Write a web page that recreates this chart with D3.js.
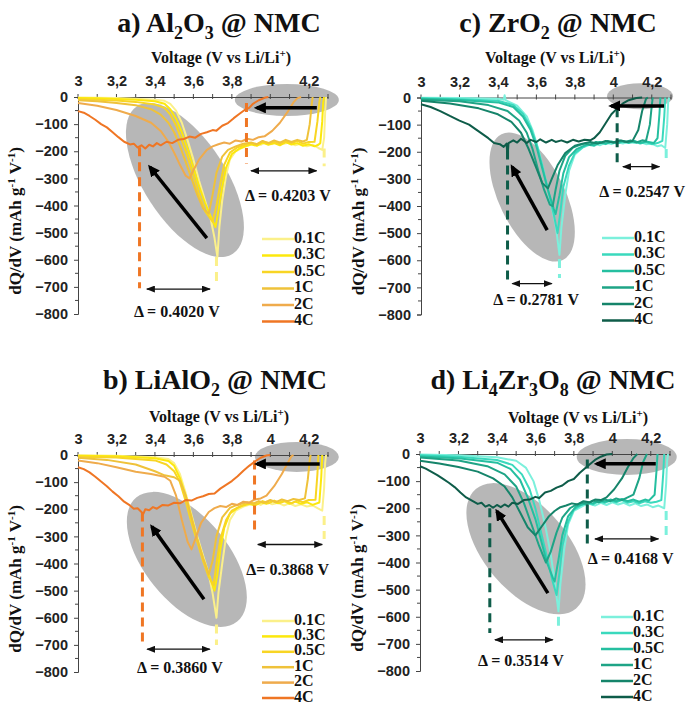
<!DOCTYPE html>
<html>
<head>
<meta charset="utf-8">
<script src="https://cdn.jsdelivr.net/npm/d3@7/dist/d3.min.js"></script>
<style>
body { margin: 0; background: #fff; }
text { font-family: "Liberation Serif", "Times New Roman", serif; font-weight: bold; fill: #111; }
.tick text { font-family: "Liberation Sans", Arial, sans-serif; font-size: 14.5px; font-weight: bold; fill: #222; }
</style>
</head>
<body>
<svg id="chart" width="689" height="706"></svg>
<script>
// rates and tick labels
var rates = ["0.1C", "0.3C", "0.5C", "1C", "2C", "4C"];
var voltTicks = [3, 3.2, 3.4, 3.6, 3.8, 4, 4.2];
var dqTicks = [0, -100, -200, -300, -400, -500, -600, -700, -800];

// a) Al2O3 @ NMC  -- [voltage, dQ/dV]
var al2o3_01 = [[3.00,-2],[3.10,-3],[3.20,-4],[3.30,-6],[3.40,-10],[3.45,-14],[3.48,-25],[3.51,-50],[3.54,-95],[3.57,-160],[3.60,-230],[3.63,-310],[3.66,-380],[3.69,-450],[3.71,-520],[3.725,-590],[3.735,-480],[3.75,-380],[3.77,-290],[3.79,-230],[3.82,-200],[3.86,-185],[3.89,-178],[3.92,-172],[3.95,-176],[3.98,-166],[4.01,-174],[4.04,-165],[4.07,-172],[4.10,-168],[4.13,-178],[4.16,-172],[4.19,-182],[4.22,-176],[4.25,-188],[4.27,-195],[4.28,-150],[4.285,-60],[4.29,0]];
var al2o3_03 = [[3.00,-4],[3.10,-5],[3.20,-7],[3.30,-10],[3.40,-16],[3.45,-25],[3.48,-45],[3.51,-80],[3.54,-130],[3.57,-190],[3.60,-260],[3.63,-330],[3.66,-390],[3.69,-440],[3.715,-480],[3.73,-420],[3.75,-330],[3.77,-260],[3.80,-210],[3.84,-190],[3.87,-182],[3.90,-174],[3.93,-180],[3.96,-168],[3.99,-176],[4.02,-170],[4.05,-178],[4.08,-166],[4.11,-175],[4.14,-170],[4.17,-180],[4.20,-174],[4.23,-182],[4.25,-176],[4.26,-170],[4.27,-90],[4.275,-20],[4.28,0]];
var al2o3_05 = [[3.00,-8],[3.10,-10],[3.20,-13],[3.30,-18],[3.40,-28],[3.45,-40],[3.48,-65],[3.51,-105],[3.54,-160],[3.57,-220],[3.60,-290],[3.63,-360],[3.66,-420],[3.70,-460],[3.72,-400],[3.74,-320],[3.76,-250],[3.79,-205],[3.83,-185],[3.87,-176],[3.90,-170],[3.93,-176],[3.96,-164],[3.99,-172],[4.02,-166],[4.05,-174],[4.08,-164],[4.11,-170],[4.14,-162],[4.17,-172],[4.20,-166],[4.23,-165],[4.245,-90],[4.255,-20],[4.26,0]];
var al2o3_1 = [[3.00,-12],[3.10,-16],[3.20,-22],[3.30,-30],[3.38,-45],[3.43,-65],[3.47,-95],[3.50,-130],[3.53,-180],[3.56,-240],[3.59,-300],[3.62,-360],[3.65,-410],[3.68,-430],[3.70,-360],[3.72,-280],[3.75,-220],[3.78,-195],[3.82,-182],[3.86,-172],[3.90,-168],[3.93,-174],[3.96,-162],[3.99,-170],[4.02,-160],[4.05,-168],[4.08,-158],[4.11,-166],[4.14,-158],[4.17,-164],[4.19,-158],[4.205,-100],[4.215,-30],[4.22,0]];
var al2o3_2 = [[3.00,-22],[3.10,-32],[3.20,-48],[3.30,-70],[3.38,-95],[3.43,-125],[3.47,-165],[3.50,-205],[3.53,-250],[3.56,-290],[3.58,-300],[3.60,-270],[3.63,-230],[3.67,-195],[3.70,-182],[3.73,-174],[3.76,-168],[3.79,-172],[3.82,-160],[3.85,-164],[3.88,-154],[3.91,-158],[3.94,-148],[3.97,-145],[4.01,-125],[4.05,-95],[4.09,-55],[4.12,-20],[4.14,-5],[4.16,0]];
var al2o3_4 = [[3.00,-52],[3.03,-58],[3.06,-70],[3.09,-84],[3.12,-100],[3.15,-112],[3.18,-130],[3.21,-148],[3.24,-165],[3.27,-175],[3.29,-172],[3.31,-186],[3.33,-178],[3.35,-190],[3.37,-176],[3.39,-182],[3.41,-170],[3.43,-178],[3.46,-165],[3.49,-170],[3.52,-158],[3.55,-155],[3.58,-146],[3.61,-150],[3.64,-136],[3.67,-130],[3.70,-122],[3.72,-124],[3.75,-106],[3.78,-96],[3.81,-78],[3.84,-62],[3.87,-46],[3.89,-40],[3.91,-25],[3.94,-12],[3.97,-3],[3.99,0]];

// b) LiAlO2 @ NMC
var lialo2_01 = [[3.00,-1],[3.20,-3],[3.40,-8],[3.47,-15],[3.50,-30],[3.53,-70],[3.56,-140],[3.59,-220],[3.62,-300],[3.65,-370],[3.68,-440],[3.70,-510],[3.72,-600],[3.73,-510],[3.75,-400],[3.77,-300],[3.79,-240],[3.82,-205],[3.86,-190],[3.89,-184],[3.92,-176],[3.95,-184],[3.98,-172],[4.01,-182],[4.04,-176],[4.07,-186],[4.10,-178],[4.13,-188],[4.16,-182],[4.19,-190],[4.22,-186],[4.25,-198],[4.27,-205],[4.28,-120],[4.285,-30],[4.29,0]];
var lialo2_03 = [[3.00,-3],[3.20,-5],[3.40,-12],[3.47,-22],[3.50,-40],[3.53,-85],[3.56,-150],[3.59,-230],[3.62,-310],[3.65,-380],[3.68,-440],[3.71,-500],[3.725,-440],[3.74,-350],[3.76,-270],[3.79,-215],[3.83,-195],[3.86,-186],[3.89,-180],[3.92,-186],[3.95,-174],[3.98,-180],[4.01,-170],[4.04,-178],[4.07,-168],[4.10,-180],[4.13,-172],[4.16,-180],[4.19,-174],[4.22,-184],[4.255,-175],[4.265,-80],[4.27,0]];
var lialo2_05 = [[3.00,-6],[3.20,-9],[3.40,-20],[3.46,-35],[3.50,-60],[3.53,-100],[3.56,-170],[3.59,-250],[3.62,-320],[3.65,-390],[3.68,-450],[3.705,-480],[3.72,-400],[3.74,-310],[3.77,-240],[3.80,-205],[3.84,-190],[3.87,-182],[3.90,-176],[3.93,-182],[3.96,-170],[3.99,-178],[4.02,-168],[4.05,-176],[4.08,-170],[4.11,-178],[4.14,-168],[4.17,-174],[4.20,-166],[4.235,-165],[4.245,-70],[4.25,0]];
var lialo2_1 = [[3.00,-10],[3.15,-18],[3.30,-35],[3.40,-60],[3.45,-75],[3.50,-82],[3.53,-95],[3.56,-150],[3.59,-230],[3.62,-310],[3.65,-380],[3.68,-440],[3.70,-390],[3.72,-300],[3.75,-230],[3.79,-195],[3.82,-186],[3.85,-180],[3.88,-174],[3.91,-180],[3.94,-170],[3.97,-176],[4.00,-166],[4.03,-174],[4.06,-164],[4.09,-170],[4.12,-162],[4.15,-166],[4.18,-160],[4.195,-90],[4.205,-20],[4.21,0]];
var lialo2_2 = [[3.00,-20],[3.10,-30],[3.20,-45],[3.30,-62],[3.38,-70],[3.45,-80],[3.48,-95],[3.51,-150],[3.54,-240],[3.57,-320],[3.59,-348],[3.61,-310],[3.64,-250],[3.68,-210],[3.71,-196],[3.74,-188],[3.77,-192],[3.80,-180],[3.83,-184],[3.86,-172],[3.89,-176],[3.92,-164],[3.95,-160],[3.98,-150],[4.02,-115],[4.06,-70],[4.09,-30],[4.11,-5],[4.12,0]];
var lialo2_4 = [[3.00,-45],[3.03,-52],[3.06,-64],[3.09,-80],[3.12,-98],[3.15,-115],[3.18,-135],[3.21,-152],[3.24,-172],[3.27,-186],[3.29,-198],[3.31,-196],[3.33,-210],[3.34,-216],[3.35,-200],[3.37,-204],[3.39,-192],[3.41,-198],[3.44,-184],[3.47,-186],[3.50,-176],[3.53,-178],[3.56,-166],[3.59,-168],[3.62,-158],[3.65,-152],[3.68,-144],[3.71,-142],[3.74,-124],[3.77,-110],[3.80,-96],[3.83,-78],[3.86,-58],[3.89,-40],[3.92,-24],[3.95,-10],[3.98,-2],[4.00,0]];

// c) ZrO2 @ NMC
var zro2_01 = [[3.00,-1],[3.20,-2],[3.40,-5],[3.43,-8],[3.435,8],[3.44,-10],[3.50,-30],[3.55,-70],[3.58,-120],[3.61,-190],[3.64,-280],[3.67,-370],[3.70,-470],[3.72,-580],[3.73,-480],[3.75,-360],[3.77,-270],[3.80,-210],[3.84,-185],[3.87,-176],[3.90,-170],[3.93,-176],[3.96,-166],[3.99,-172],[4.02,-164],[4.05,-170],[4.08,-162],[4.11,-168],[4.14,-164],[4.17,-172],[4.20,-170],[4.23,-180],[4.25,-176],[4.27,-186],[4.28,-100],[4.285,-20],[4.29,0]];
var zro2_03 = [[3.00,-3],[3.20,-6],[3.40,-12],[3.48,-28],[3.53,-60],[3.57,-110],[3.60,-170],[3.63,-250],[3.66,-340],[3.69,-430],[3.71,-500],[3.725,-420],[3.74,-330],[3.77,-250],[3.80,-205],[3.84,-184],[3.87,-174],[3.90,-178],[3.93,-166],[3.96,-172],[3.99,-164],[4.02,-170],[4.05,-162],[4.08,-168],[4.11,-162],[4.14,-170],[4.17,-164],[4.20,-172],[4.23,-168],[4.255,-160],[4.265,-70],[4.27,0]];
var zro2_05 = [[3.00,-5],[3.20,-9],[3.40,-18],[3.48,-35],[3.53,-70],[3.57,-120],[3.60,-180],[3.63,-260],[3.66,-340],[3.69,-410],[3.70,-430],[3.72,-360],[3.74,-280],[3.77,-220],[3.81,-190],[3.84,-180],[3.87,-172],[3.90,-176],[3.93,-164],[3.96,-170],[3.99,-162],[4.02,-168],[4.05,-160],[4.08,-166],[4.11,-160],[4.14,-168],[4.17,-162],[4.21,-168],[4.23,-150],[4.24,-60],[4.245,0]];
var zro2_1 = [[3.00,-8],[3.20,-14],[3.35,-28],[3.45,-50],[3.51,-85],[3.55,-130],[3.58,-190],[3.61,-270],[3.64,-340],[3.67,-395],[3.685,-400],[3.70,-340],[3.72,-270],[3.75,-215],[3.79,-185],[3.82,-176],[3.85,-170],[3.88,-174],[3.91,-164],[3.94,-168],[3.97,-160],[4.00,-166],[4.03,-158],[4.06,-164],[4.09,-158],[4.12,-166],[4.15,-158],[4.17,-160],[4.19,-100],[4.20,-30],[4.205,0]];
var zro2_2 = [[3.00,-12],[3.15,-22],[3.30,-40],[3.40,-62],[3.47,-90],[3.52,-130],[3.56,-190],[3.60,-260],[3.63,-315],[3.66,-335],[3.68,-300],[3.71,-250],[3.75,-205],[3.80,-178],[3.84,-170],[3.88,-164],[3.92,-170],[3.96,-160],[4.00,-166],[4.04,-158],[4.07,-164],[4.10,-160],[4.13,-120],[4.15,-50],[4.17,-5],[4.18,0]];
var zro2_4 = [[3.00,-25],[3.05,-35],[3.10,-50],[3.15,-68],[3.20,-85],[3.25,-100],[3.30,-125],[3.35,-150],[3.38,-168],[3.41,-172],[3.43,-182],[3.445,-170],[3.45,-222],[3.455,-168],[3.48,-158],[3.50,-166],[3.52,-152],[3.55,-168],[3.57,-156],[3.60,-164],[3.62,-154],[3.65,-166],[3.68,-156],[3.70,-164],[3.73,-158],[3.76,-166],[3.79,-156],[3.82,-162],[3.85,-156],[3.88,-158],[3.90,-150],[3.93,-128],[3.96,-95],[3.99,-62],[4.02,-40],[4.05,-22],[4.08,-10],[4.12,-2],[4.15,0]];

// d) Li4Zr3O8 @ NMC
var lzo_01 = [[3.00,-2],[3.20,-5],[3.40,-12],[3.50,-25],[3.55,-50],[3.59,-100],[3.62,-170],[3.65,-260],[3.68,-370],[3.70,-470],[3.72,-580],[3.73,-480],[3.75,-350],[3.77,-260],[3.80,-210],[3.85,-190],[3.88,-184],[3.91,-190],[3.94,-180],[3.97,-188],[4.00,-178],[4.03,-186],[4.06,-180],[4.09,-190],[4.12,-182],[4.15,-192],[4.18,-186],[4.21,-196],[4.24,-190],[4.27,-200],[4.28,-110],[4.285,-25],[4.29,0]];
var lzo_03 = [[3.00,-5],[3.20,-10],[3.40,-22],[3.48,-40],[3.53,-75],[3.57,-130],[3.60,-200],[3.63,-290],[3.66,-380],[3.69,-470],[3.71,-520],[3.725,-440],[3.74,-340],[3.77,-250],[3.80,-205],[3.84,-188],[3.87,-180],[3.90,-186],[3.93,-174],[3.96,-180],[3.99,-172],[4.02,-178],[4.05,-170],[4.08,-180],[4.11,-174],[4.14,-182],[4.17,-174],[4.20,-180],[4.23,-176],[4.255,-170],[4.265,-70],[4.27,0]];
var lzo_05 = [[3.00,-9],[3.20,-16],[3.40,-32],[3.47,-55],[3.52,-95],[3.56,-160],[3.60,-240],[3.63,-320],[3.66,-400],[3.69,-455],[3.70,-470],[3.72,-390],[3.74,-300],[3.77,-230],[3.81,-195],[3.84,-186],[3.87,-178],[3.90,-182],[3.93,-170],[3.96,-176],[3.99,-168],[4.02,-174],[4.05,-166],[4.08,-174],[4.11,-168],[4.14,-176],[4.17,-168],[4.19,-172],[4.22,-150],[4.23,-60],[4.235,0]];
var lzo_1 = [[3.00,-13],[3.20,-24],[3.35,-45],[3.44,-75],[3.50,-120],[3.54,-180],[3.58,-260],[3.62,-340],[3.655,-400],[3.68,-360],[3.71,-290],[3.74,-235],[3.78,-200],[3.81,-188],[3.84,-180],[3.87,-184],[3.90,-172],[3.93,-178],[3.96,-168],[3.99,-174],[4.02,-164],[4.05,-170],[4.08,-160],[4.11,-150],[4.14,-90],[4.16,-30],[4.18,0]];
var lzo_2 = [[3.00,-25],[3.10,-35],[3.20,-48],[3.30,-65],[3.38,-90],[3.44,-120],[3.48,-160],[3.52,-215],[3.56,-270],[3.60,-300],[3.63,-270],[3.67,-230],[3.70,-210],[3.73,-196],[3.76,-190],[3.79,-182],[3.82,-186],[3.85,-174],[3.88,-178],[3.91,-168],[3.94,-170],[3.97,-160],[4.01,-130],[4.05,-90],[4.08,-50],[4.11,-15],[4.13,0]];
var lzo_4 = [[3.00,-45],[3.03,-54],[3.06,-66],[3.09,-78],[3.12,-92],[3.15,-106],[3.18,-122],[3.21,-142],[3.24,-160],[3.27,-172],[3.30,-184],[3.32,-180],[3.34,-194],[3.36,-188],[3.38,-198],[3.40,-188],[3.42,-196],[3.44,-186],[3.46,-194],[3.48,-180],[3.51,-184],[3.54,-170],[3.57,-168],[3.60,-158],[3.62,-162],[3.65,-142],[3.68,-136],[3.71,-124],[3.74,-116],[3.77,-100],[3.80,-92],[3.83,-70],[3.86,-52],[3.88,-40],[3.91,-22],[3.94,-10],[3.97,-2],[4.00,0]];

var warmColors = ["#fbf08a", "#fce80c", "#f8d524", "#efc23a", "#efab4c", "#ef7624"];
var tealColors = ["#7cf0dc", "#3ad9bd", "#25bfa0", "#1ea486", "#15846a", "#0e5c49"];

var panels = [
  { ox: 78, oy: 97, colors: warmColors,
    series: [al2o3_01, al2o3_03, al2o3_05, al2o3_1, al2o3_2, al2o3_4],
    title: [["a) Al",0],["2",1],["O",0],["3",1],[" @ NMC",0]], tx: 219, ty: 32, vx: 221, vy: 63,
    legend: { x: 262, y: 239, dy: 16.5 },
    bigEll: [3.556, -306, 88, 41, 57], topEll: [4.086, -11, 52, 16],
    bigArrow: [[3.670,-520],[3.374,-258]], topArrow: [[4.242,-40],[3.93,-40]],
    dashes: [[3.32,-185,-705,5],[3.876,-22,-245,5],[3.72,-590,-700,0],[4.28,-190,-255,0]],
    spans: [[-708,3.358,3.686],[-272,3.90,4.24]],
    notes: [[3.514,-796,"\u0394 = 0.4020 V"],[4.091,-369,"\u0394 = 0.4203 V"]] },
  { ox: 421, oy: 97.5, colors: tealColors,
    series: [zro2_01, zro2_03, zro2_05, zro2_1, zro2_2, zro2_4],
    title: [["c) ZrO",0],["2",1],[" @ NMC",0]], tx: 558, ty: 32, vx: 555, vy: 63,
    legend: { x: 602, y: 238, dy: 16.5 },
    bigEll: [3.578, -367, 70, 33, 64], topEll: [4.139, 5, 33, 13],
    bigArrow: [[3.656,-489],[3.474,-256]], topArrow: [[4.264,-31],[3.989,-31]],
    dashes: [[3.45,-195,-690,5],[4.02,-40,-255,5],[3.72,-595,-665,0],[4.275,-190,-240,0]],
    spans: [[-686,3.475,3.68],[-255,4.05,4.24]],
    notes: [[3.599,-751,"\u0394 = 0.2781 V"],[4.15,-352,"\u0394 = 0.2547 V"]] },
  { ox: 78, oy: 455, colors: warmColors,
    series: [lialo2_01, lialo2_03, lialo2_05, lialo2_1, lialo2_2, lialo2_4],
    title: [["b) LiAlO",0],["2",1],[" @ NMC",0]], tx: 215, ty: 389, vx: 219, vy: 422,
    legend: { x: 262, y: 621, dy: 15.4 },
    bigEll: [3.566, -385, 80, 42, 51], topEll: [4.138, -7, 42, 15],
    bigArrow: [[3.655,-532],[3.384,-264]], topArrow: [[4.257,-33],[3.93,-33]],
    dashes: [[3.335,-212,-688,5],[3.918,-20,-295,5],[3.72,-625,-700,0],[4.28,-225,-310,0]],
    spans: [[-716,3.36,3.685],[-330,3.935,4.27]],
    notes: [[3.53,-789,"\u0394 = 0.3860 V"],[4.09,-429,"\u0394= 0.3868 V"]] },
  { ox: 420, oy: 454, colors: tealColors,
    series: [lzo_01, lzo_03, lzo_05, lzo_1, lzo_2, lzo_4],
    title: [["d) Li",0],["4",1],["Zr",0],["3",1],["O",0],["8",1],[" @ NMC",0]], tx: 553, ty: 389, vx: 578, vy: 423,
    legend: { x: 601, y: 617, dy: 16 },
    bigEll: [3.551, -349, 78, 42, 50], topEll: [4.075, -11, 50, 18],
    bigArrow: [[3.665,-513],[3.40,-211]], topArrow: [[4.226,-36],[3.919,-36]],
    dashes: [[3.363,-200,-660,5],[3.87,-20,-330,5],[3.72,-600,-650,0],[4.28,-210,-312,0]],
    spans: [[-685,3.39,3.69],[-313,3.91,4.24]],
    notes: [[3.525,-767,"\u0394 = 0.3514 V"],[4.096,-393,"\u0394 = 0.4168 V"]] }
];

var svg = d3.select("#chart");
var defs = svg.append("defs");
defs.append("marker").attr("id", "bigHead")
    .attr("markerUnits", "userSpaceOnUse")
    .attr("viewBox", "0 0 12 11").attr("markerWidth", 12).attr("markerHeight", 11)
    .attr("refX", 9).attr("refY", 5.5).attr("orient", "auto")
  .append("path").attr("d", "M0,0L12,5.5L0,11z").attr("fill", "#000");
defs.append("marker").attr("id", "smallHead")
    .attr("markerUnits", "userSpaceOnUse")
    .attr("viewBox", "0 0 9 7").attr("markerWidth", 9).attr("markerHeight", 7)
    .attr("refX", 8).attr("refY", 3.5).attr("orient", "auto-start-reverse")
  .append("path").attr("d", "M0,0L9,3.5L0,7z").attr("fill", "#111");

function drawPanel(p) {
  var x = d3.scaleLinear().domain([3, 4.3]).range([0, 250]);
  var y = d3.scaleLinear().domain([0, -800]).range([0, 217]);
  var g = svg.append("g").attr("transform", "translate(" + p.ox + "," + p.oy + ")");

  // grey highlight ellipses (under the curves)
  g.append("ellipse")
    .attr("transform", "translate(" + x(p.bigEll[0]) + "," + y(p.bigEll[1]) + ") rotate(" + p.bigEll[4] + ")")
    .attr("rx", p.bigEll[2]).attr("ry", p.bigEll[3])
    .attr("fill", "#afafaf").attr("opacity", 0.9);
  g.append("ellipse")
    .attr("cx", x(p.topEll[0])).attr("cy", y(p.topEll[1]))
    .attr("rx", p.topEll[2]).attr("ry", p.topEll[3])
    .attr("fill", "#afafaf").attr("opacity", 0.9);

  // axes
  var xAxis = g.append("g")
    .call(d3.axisTop(x).tickValues(voltTicks).tickSize(0).tickPadding(11)
      .tickFormat(function(d) { return String(d).replace(".", ","); }));
  xAxis.select(".domain").attr("stroke", "#444");
  g.selectAll(".xminor").data(d3.range(0, 14)).enter().append("line")
    .attr("x1", function(d) { return x(3 + d / 10); }).attr("x2", function(d) { return x(3 + d / 10); })
    .attr("y1", -3).attr("y2", 2).attr("stroke", "#444");

  var yAxis = g.append("g")
    .call(d3.axisLeft(y).tickValues(dqTicks).tickSize(4).tickPadding(6));
  yAxis.select(".domain").attr("stroke", "#444");
  yAxis.selectAll(".tick line").attr("stroke", "#444");
  g.selectAll(".yminor").data(d3.range(0, 8)).enter().append("line")
    .attr("x1", -3).attr("x2", 0)
    .attr("y1", function(d) { return y(-50 - d * 100); }).attr("y2", function(d) { return y(-50 - d * 100); })
    .attr("stroke", "#444");

  // curves
  var line = d3.line().x(function(d) { return x(d[0]); }).y(function(d) { return y(d[1]); });
  p.series.forEach(function(s, i) {
    g.append("path").datum(s)
      .attr("d", line)
      .attr("fill", "none")
      .attr("stroke", p.colors[i])
      .attr("stroke-width", 2)
      .attr("stroke-linejoin", "round");
  });

  // dashed guide lines
  p.dashes.forEach(function(d) {
    g.append("line")
      .attr("x1", x(d[0])).attr("x2", x(d[0]))
      .attr("y1", y(d[1])).attr("y2", y(d[2]))
      .attr("stroke", p.colors[d[3]]).attr("stroke-width", 3)
      .attr("stroke-dasharray", "9,6");
  });

  // black arrows
  [p.bigArrow, p.topArrow].forEach(function(a) {
    g.append("line")
      .attr("x1", x(a[0][0])).attr("y1", y(a[0][1]))
      .attr("x2", x(a[1][0])).attr("y2", y(a[1][1]))
      .attr("stroke", "#000").attr("stroke-width", 3.5)
      .attr("marker-end", "url(#bigHead)");
  });

  // delta spans
  p.spans.forEach(function(s) {
    g.append("line")
      .attr("x1", x(s[1])).attr("x2", x(s[2]))
      .attr("y1", y(s[0])).attr("y2", y(s[0]))
      .attr("stroke", "#111").attr("stroke-width", 1.3)
      .attr("marker-start", "url(#smallHead)").attr("marker-end", "url(#smallHead)");
  });
  p.notes.forEach(function(n) {
    g.append("text")
      .attr("x", x(n[0])).attr("y", y(n[1]))
      .attr("text-anchor", "middle").attr("dominant-baseline", "middle")
      .style("font-size", "16px")
      .text(n[2]);
  });

  // y label
  var yl = g.append("text")
    .attr("transform", "translate(-57," + 124 + ") rotate(-90)")
    .attr("text-anchor", "middle")
    .style("font-size", "17px");
  yl.append("tspan").text("dQ/dV (mAh g");
  yl.append("tspan").attr("dy", -6).style("font-size", "11px").text("-1");
  yl.append("tspan").attr("dy", 6).text(" V");
  yl.append("tspan").attr("dy", -6).style("font-size", "11px").text("-1");
  yl.append("tspan").attr("dy", 6).text(")");

  // x label
  var xl = svg.append("text")
    .attr("x", p.vx).attr("y", p.vy)
    .attr("text-anchor", "middle")
    .style("font-size", "16px");
  xl.append("tspan").text("Voltage (V vs Li/Li");
  xl.append("tspan").attr("dy", -6).style("font-size", "11px").text("+");
  xl.append("tspan").attr("dy", 6).text(")");

  // title with subscripts
  var t = svg.append("text")
    .attr("x", p.tx).attr("y", p.ty)
    .attr("text-anchor", "middle")
    .style("font-size", "28px");
  var shift = 0;
  p.title.forEach(function(part) {
    var want = part[1] ? 7 : 0;
    t.append("tspan").attr("dy", want - shift)
      .style("font-size", part[1] ? "18px" : "28px")
      .text(part[0]);
    shift = want;
  });

  // legend
  rates.forEach(function(r, i) {
    var ly = p.legend.y + i * p.legend.dy;
    svg.append("line")
      .attr("x1", p.legend.x).attr("x2", p.legend.x + 32)
      .attr("y1", ly).attr("y2", ly)
      .attr("stroke", p.colors[i]).attr("stroke-width", 2.5);
    svg.append("text")
      .attr("x", p.legend.x + 32).attr("y", ly)
      .attr("dominant-baseline", "middle")
      .style("font-size", "16px")
      .text(r);
  });
}

panels.forEach(drawPanel);
</script>
</body>
</html>
